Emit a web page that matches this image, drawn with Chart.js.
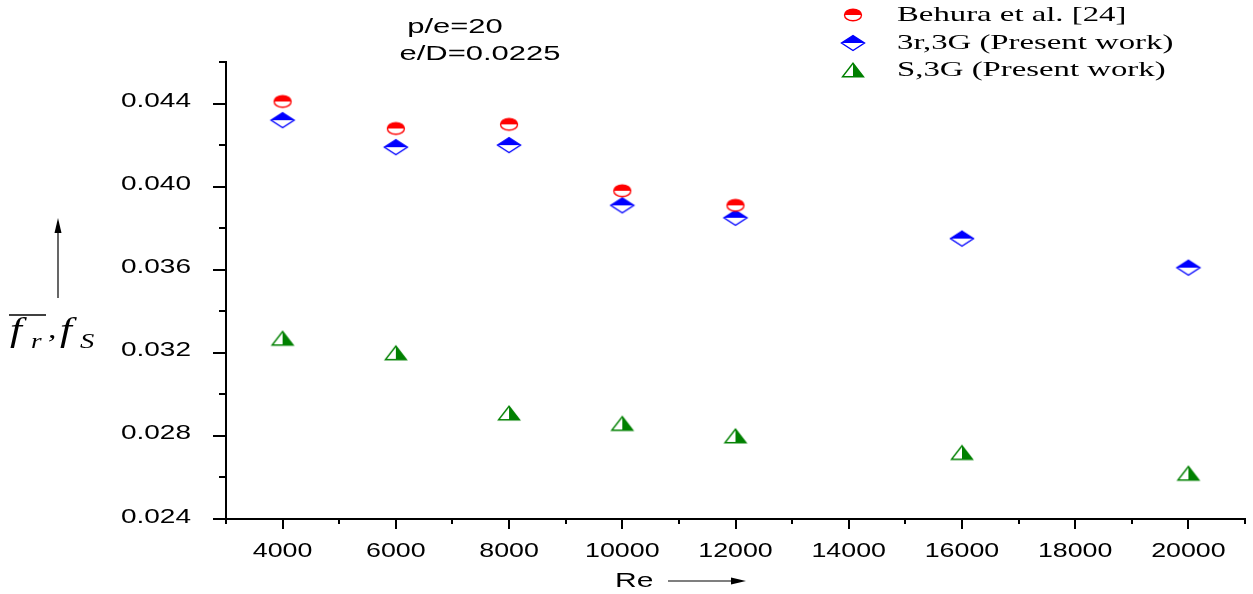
<!DOCTYPE html>
<html>
<head>
<meta charset="utf-8">
<script src="https://cdn.jsdelivr.net/npm/chart.js@4/dist/chart.umd.min.js"></script>
<style>
  html, body { margin: 0; padding: 0; background: #ffffff; }
  #wrap { width: 1253px; height: 594px; }
</style>
</head>
<body>
<div id="wrap"><canvas id="chart" width="1253" height="594"></canvas></div>
<script>
// Reynolds numbers and friction factors
const reBehura = [4000, 6000, 8000, 10000, 12000];
const fBehura  = [0.0441, 0.0428, 0.0430, 0.0398, 0.0391];

const rePresent = [4000, 6000, 8000, 10000, 12000, 16000, 20000];
const fRib3r    = [0.0432, 0.0419, 0.0420, 0.0391, 0.0385, 0.0375, 0.0361];
const fSmooth   = [0.0327, 0.0320, 0.0291, 0.0286, 0.0280, 0.0272, 0.0262];

const seriesLabels = ['Behura et al. [24]', '3r,3G (Present work)', 'S,3G (Present work)'];

// axis ticks
const xMajor = [4000, 6000, 8000, 10000, 12000, 14000, 16000, 18000, 20000];
const xMinor = [3000, 5000, 7000, 9000, 11000, 13000, 15000, 17000, 19000, 21000];
const yMajor = [0.024, 0.028, 0.032, 0.036, 0.040, 0.044];
const yMinor = [0.026, 0.030, 0.034, 0.038, 0.042, 0.046];

const notes = ['p/e=20', 'e/D=0.0225'];

// ---- half-filled marker glyphs ----
function makeCanvas(w, h) {
  const c = document.createElement('canvas');
  c.width = w; c.height = h;
  return c;
}
function halfCircle(color) {
  const c = makeCanvas(24, 18), g = c.getContext('2d');
  const cx = 12, cy = 9, rx = 8.5, ry = 5.8;
  g.fillStyle = '#ffffff';
  g.beginPath(); g.ellipse(cx, cy, rx, ry, 0, 0, Math.PI * 2); g.fill();
  g.fillStyle = color;
  g.beginPath(); g.ellipse(cx, cy, rx, ry, 0, Math.PI, Math.PI * 2); g.closePath(); g.fill();
  g.strokeStyle = color; g.lineWidth = 1.4;
  g.beginPath(); g.ellipse(cx, cy, rx, ry, 0, 0, Math.PI * 2); g.stroke();
  return c;
}
function halfDiamond(color) {
  const c = makeCanvas(28, 20), g = c.getContext('2d');
  const cx = 14, cy = 10, hw = 11.5, hh = 7.5;
  g.fillStyle = '#ffffff';
  g.beginPath(); g.moveTo(cx, cy - hh); g.lineTo(cx + hw, cy); g.lineTo(cx, cy + hh); g.lineTo(cx - hw, cy); g.closePath(); g.fill();
  g.fillStyle = color;
  g.beginPath(); g.moveTo(cx, cy - hh); g.lineTo(cx + hw, cy); g.lineTo(cx - hw, cy); g.closePath(); g.fill();
  g.strokeStyle = color; g.lineWidth = 1.4;
  g.beginPath(); g.moveTo(cx, cy - hh); g.lineTo(cx + hw, cy); g.lineTo(cx, cy + hh); g.lineTo(cx - hw, cy); g.closePath(); g.stroke();
  return c;
}
function halfTriangle(color) {
  const c = makeCanvas(26, 18), g = c.getContext('2d');
  const cx = 13, cy = 9, hw = 10.5, hh = 6.8;
  g.fillStyle = '#ffffff';
  g.beginPath(); g.moveTo(cx, cy - hh); g.lineTo(cx + hw, cy + hh); g.lineTo(cx - hw, cy + hh); g.closePath(); g.fill();
  g.fillStyle = color;
  g.beginPath(); g.moveTo(cx, cy - hh); g.lineTo(cx + hw, cy + hh); g.lineTo(cx, cy + hh); g.closePath(); g.fill();
  g.strokeStyle = color; g.lineWidth = 1.4;
  g.beginPath(); g.moveTo(cx, cy - hh); g.lineTo(cx + hw, cy + hh); g.lineTo(cx - hw, cy + hh); g.closePath(); g.stroke();
  return c;
}

const markRed = halfCircle('#ff0000');
const markBlue = halfDiamond('#0000ff');
const markGreen = halfTriangle('#008000');

const pairs = (xs, ys) => xs.map((x, i) => ({ x: x, y: ys[i] }));

// ---- text helper: horizontally widened canvas text ----
function wideText(ctx, text, x, y, font, sx, align, baseline) {
  ctx.save();
  ctx.font = font;
  ctx.fillStyle = '#000000';
  ctx.textAlign = align || 'left';
  ctx.textBaseline = baseline || 'middle';
  ctx.translate(x, y);
  ctx.scale(sx, 1);
  ctx.fillText(text, 0, 0);
  ctx.restore();
}

const SANS = "'Liberation Sans', Arial, sans-serif";
const SERIF = "'Liberation Serif', 'Times New Roman', serif";

// ticks, tick labels, axis titles, notes and legend
const decorations = {
  id: 'decorations',
  afterDraw(chart) {
    const ctx = chart.ctx;
    const xs = chart.scales.x, ys = chart.scales.y;
    const area = chart.chartArea;
    ctx.save();
    ctx.strokeStyle = '#000000';
    ctx.lineWidth = 2;
    ctx.beginPath();
    xMajor.forEach(v => { const p = Math.round(xs.getPixelForValue(v)); ctx.moveTo(p, area.bottom); ctx.lineTo(p, area.bottom + 10); });
    xMinor.forEach(v => { const p = Math.round(xs.getPixelForValue(v)); ctx.moveTo(p, area.bottom); ctx.lineTo(p, area.bottom + 5); });
    yMajor.forEach(v => { const p = Math.round(ys.getPixelForValue(v)); ctx.moveTo(area.left, p); ctx.lineTo(area.left - 13, p); });
    yMinor.forEach(v => { const p = Math.round(ys.getPixelForValue(v)); ctx.moveTo(area.left, p); ctx.lineTo(area.left - 7, p); });
    ctx.stroke();
    ctx.restore();

    xMajor.forEach(v => wideText(ctx, String(v), xs.getPixelForValue(v), area.bottom + 32, '20px ' + SANS, 1.34, 'center'));
    yMajor.forEach(v => wideText(ctx, v.toFixed(3), area.left - 35, ys.getPixelForValue(v) - 2, '20px ' + SANS, 1.4, 'right'));

    // notes
    wideText(ctx, notes[0], 455, 27, '20px ' + SANS, 1.55, 'center');
    wideText(ctx, notes[1], 480, 54, '20px ' + SANS, 1.55, 'center');

    // x title with arrow
    wideText(ctx, 'Re', 615, 581, '20px ' + SANS, 1.5, 'left');
    ctx.save();
    ctx.strokeStyle = '#000'; ctx.fillStyle = '#000'; ctx.lineWidth = 1.2;
    ctx.beginPath(); ctx.moveTo(668, 581); ctx.lineTo(735, 581); ctx.stroke();
    ctx.beginPath(); ctx.moveTo(746, 581); ctx.lineTo(731, 577.5); ctx.lineTo(731, 584.5); ctx.closePath(); ctx.fill();
    // y title arrow
    ctx.beginPath(); ctx.moveTo(58, 298); ctx.lineTo(58, 230); ctx.stroke();
    ctx.beginPath(); ctx.moveTo(58, 218); ctx.lineTo(54.5, 233); ctx.lineTo(61.5, 233); ctx.closePath(); ctx.fill();
    // y title: overline on f_r
    ctx.lineWidth = 1.3;
    ctx.beginPath(); ctx.moveTo(9, 315); ctx.lineTo(46, 315); ctx.stroke();
    ctx.restore();
    wideText(ctx, 'f', 10, 341, 'italic 33px ' + SERIF, 1.3, 'left', 'alphabetic');
    wideText(ctx, 'r', 31, 348, 'italic 21px ' + SERIF, 1.3, 'left', 'alphabetic');
    wideText(ctx, ',', 48, 338, 'italic 26px ' + SERIF, 1.3, 'left', 'alphabetic');
    wideText(ctx, 'f', 60, 341, 'italic 33px ' + SERIF, 1.3, 'left', 'alphabetic');
    wideText(ctx, 'S', 80, 348, 'italic 22px ' + SERIF, 1.3, 'left', 'alphabetic');

    // legend
    const rows = [15, 43, 70];
    chart.data.datasets.forEach((ds, i) => {
      const img = ds.pointStyle;
      ctx.drawImage(img, 853 - img.width / 2, rows[i] - img.height / 2);
      wideText(ctx, ds.label, 897, rows[i], '22px ' + SERIF, 1.49, 'left');
    });
  }
};

new Chart(document.getElementById('chart'), {
  type: 'scatter',
  data: {
    datasets: [
      { label: seriesLabels[0], data: pairs(reBehura, fBehura), pointStyle: markRed },
      { label: seriesLabels[1], data: pairs(rePresent, fRib3r), pointStyle: markBlue },
      { label: seriesLabels[2], data: pairs(rePresent, fSmooth), pointStyle: markGreen }
    ]
  },
  options: {
    responsive: false,
    devicePixelRatio: 1,
    animation: false,
    layout: { padding: { left: 0, right: 8, top: 62, bottom: 0 } },
    plugins: { legend: { display: false }, tooltip: { enabled: false } },
    scales: {
      x: {
        type: 'linear', min: 3000, max: 21000,
        grid: { display: false, drawTicks: false },
        border: { display: true, color: '#000000', width: 2 },
        ticks: { display: false },
        afterFit(scale) { scale.height = 75; }
      },
      y: {
        type: 'linear', min: 0.024, max: 0.046,
        grid: { display: false, drawTicks: false },
        border: { display: true, color: '#000000', width: 2 },
        ticks: { display: false },
        afterFit(scale) { scale.width = 226; }
      }
    }
  },
  plugins: [decorations]
});
</script>
</body>
</html>
